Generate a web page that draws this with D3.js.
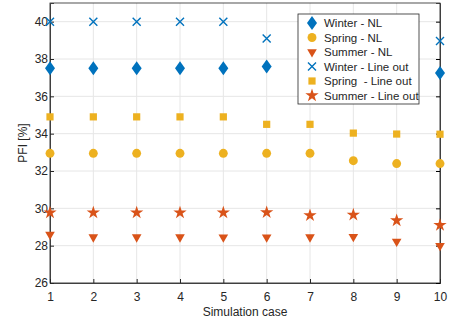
<!DOCTYPE html>
<html>
<head>
<meta charset="utf-8">
<script src="https://cdn.jsdelivr.net/npm/d3@7"></script>
<style>
  body { margin: 0; background: #fff; }
  text { font-family: "Liberation Sans", Arial, sans-serif; fill: #262626; }
</style>
</head>
<body>
<div id="viz"></div>
<script>
var cases = [1, 2, 3, 4, 5, 6, 7, 8, 9, 10];
var winterNL = [37.5, 37.5, 37.5, 37.5, 37.5, 37.6, 37.5, 37.45, 37.4, 37.25];
var springNL = [32.95, 32.95, 32.95, 32.95, 32.95, 32.95, 32.95, 32.55, 32.4, 32.4];
var summerNL = [28.6, 28.46, 28.46, 28.46, 28.45, 28.45, 28.46, 28.48, 28.22, 28.0];
var winterLO = [40, 40, 40, 40, 40, 39.1, 39.1, 39.05, 39.0, 38.97];
var springLO = [34.9, 34.9, 34.9, 34.9, 34.9, 34.5, 34.5, 34.03, 33.98, 33.97];
var summerLO = [29.77, 29.77, 29.77, 29.77, 29.77, 29.78, 29.62, 29.65, 29.35, 29.1];
var yTicks = [26, 28, 30, 32, 34, 36, 38, 40];
var seriesNames = ["Winter - NL", "Spring - NL", "Summer - NL", "Winter - Line out", "Spring  - Line out", "Summer - Line out"];

var blue = "#0072BD", yellow = "#EDB120", orange = "#D95319";

var width = 451, height = 322;
var margin = {top: 3, right: 11, bottom: 39, left: 50};

var svg = d3.select("#viz").append("svg")
    .attr("width", width)
    .attr("height", height);

var x = d3.scaleLinear().domain([1, 10]).range([margin.left, width - margin.right]);
var y = d3.scaleLinear().domain([26, 41]).range([height - margin.bottom, margin.top]);

// grid
svg.append("g").selectAll("line")
  .data(cases).enter().append("line")
  .attr("x1", function(d) { return x(d); }).attr("x2", function(d) { return x(d); })
  .attr("y1", y(26)).attr("y2", y(41))
  .style("stroke", "#e6e6e6").style("stroke-width", 1);
svg.append("g").selectAll("line")
  .data(yTicks).enter().append("line")
  .attr("x1", x(1)).attr("x2", x(10))
  .attr("y1", function(d) { return y(d); }).attr("y2", function(d) { return y(d); })
  .style("stroke", "#e6e6e6").style("stroke-width", 1);

// box
svg.append("rect")
  .attr("x", x(1)).attr("y", y(41))
  .attr("width", x(10) - x(1)).attr("height", y(26) - y(41))
  .style("fill", "none").style("stroke", "#262626").style("stroke-width", 0.8);

// axes
var xAxis = svg.append("g")
  .attr("transform", "translate(0," + y(26) + ")")
  .call(d3.axisBottom(x).tickValues(cases).tickSize(-4).tickPadding(9));
var yAxis = svg.append("g")
  .attr("transform", "translate(" + x(1) + ",0)")
  .call(d3.axisLeft(y).tickValues(yTicks).tickSize(-4).tickPadding(2));
svg.append("g")
  .attr("transform", "translate(" + x(10) + ",0)")
  .call(d3.axisRight(y).tickValues(yTicks).tickSize(-4).tickFormat(""));
[xAxis, yAxis].forEach(function(g) {
  g.select(".domain").style("stroke", "#262626");
  g.selectAll(".tick line").style("stroke", "#262626");
  g.selectAll("text").style("font-size", "12px").style("fill", "#262626")
    .style("font-family", "Liberation Sans, Arial, sans-serif");
});
svg.selectAll(".domain").style("stroke", "#262626").style("stroke-width", 0.8);

svg.append("text")
  .attr("x", (x(1) + x(10)) / 2).attr("y", 316)
  .attr("text-anchor", "middle").style("font-size", "12px")
  .text("Simulation case");
svg.append("text")
  .attr("transform", "translate(27," + ((y(26) + y(41)) / 2) + ") rotate(-90)")
  .attr("text-anchor", "middle").style("font-size", "12px")
  .text("PFI [%]");

// markers
var diamondPath = "M0,-7L5,0L0,7L-5,0Z";
var xPath = "M-4,-4L4,4M-4,4L4,-4";
function markerAttrs(sel, k) {
  if (k === 0) sel.attr("d", diamondPath).style("fill", blue);
  else if (k === 1) sel.attr("d", d3.symbol().type(d3.symbolCircle).size(62)()).style("fill", yellow);
  else if (k === 2) sel.attr("d", d3.symbol().type(d3.symbolTriangle).size(40)()).style("fill", orange);
  else if (k === 3) sel.attr("d", xPath).style("fill", "none").style("stroke", blue).style("stroke-width", 1.4);
  else if (k === 4) sel.attr("d", d3.symbol().type(d3.symbolSquare).size(52)()).style("fill", yellow);
  else sel.attr("d", d3.symbol().type(d3.symbolStar).size(55)()).style("fill", orange);
}

var allSeries = [winterNL, springNL, summerNL, winterLO, springLO, summerLO];
allSeries.forEach(function(vals, k) {
  var g = svg.append("g");
  var pts = g.selectAll("path").data(vals).enter().append("path");
  markerAttrs(pts, k);
  pts.attr("transform", function(d, i) {
    return "translate(" + x(cases[i]) + "," + y(d) + ")" + (k === 2 ? " rotate(180)" : "");
  });
});

// legend
var lg = svg.append("g").attr("transform", "translate(298,14)");
lg.append("rect").attr("width", 121).attr("height", 90)
  .style("fill", "#fff").style("stroke", "#262626").style("stroke-width", 0.8);
var items = lg.selectAll("g.legend").data(seriesNames).enter().append("g")
  .attr("class", "legend")
  .attr("transform", function(d, i) { return "translate(0," + (9 + i * 14.5) + ")"; });
items.each(function(d, i) {
  var p = d3.select(this).append("path");
  markerAttrs(p, i);
  p.attr("transform", "translate(14,0)" + (i === 2 ? " rotate(180)" : ""));
});
items.append("text").attr("x", 26).attr("y", 4)
  .style("font-size", "11.5px")
  .style("white-space", "pre")
  .text(function(d) { return d; });
</script>
</body>
</html>
